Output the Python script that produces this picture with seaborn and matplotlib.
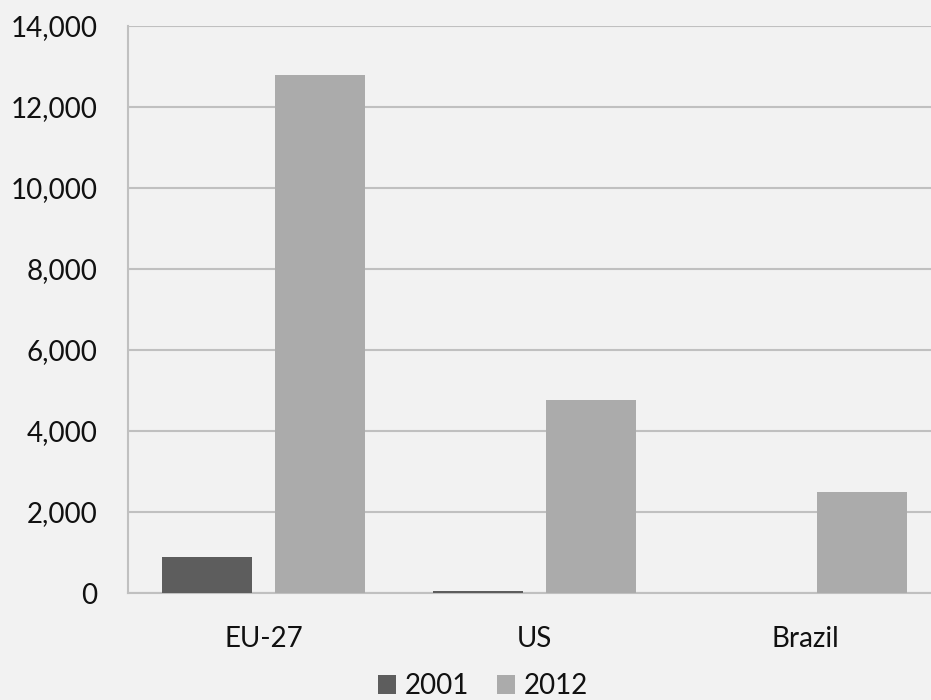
import pandas as pd
import numpy as np
import matplotlib
matplotlib.use('Agg')
import matplotlib.pyplot as plt
import seaborn as sns
from matplotlib.ticker import FuncFormatter

regions = ['EU-27', 'US', 'Brazil']
years = ['2001', '2012']
vals_2001 = [900, 50, 0]
vals_2012 = [12800, 4770, 2500]
yticks = [0, 2000, 4000, 6000, 8000, 10000, 12000, 14000]

df = pd.DataFrame({
    'region': regions * 2,
    'year': [years[0]] * 3 + [years[1]] * 3,
    'value': vals_2001 + vals_2012,
})

sns.set_style('white')
plt.rcParams['font.family'] = ['Lato', 'DejaVu Sans']

bg = '#f2f2f2'
grid_c = '#c0c0c0'
txt = '#111111'

fig = plt.figure(figsize=(9.31, 7), dpi=100, facecolor=bg)
ax = fig.add_axes([128 / 931, 107 / 700, (941 - 128) / 931, 567 / 700])
ax.set_facecolor(bg)

sns.barplot(data=df, x='region', y='value', hue='year', order=regions, hue_order=years,
            palette=['#5d5d5d', '#ababab'], saturation=1, width=0.83, gap=0.2,
            edgecolor='none', linewidth=0, ax=ax, zorder=3)

ax.set_xlim(-0.5, 2.5)
ax.set_ylim(0, 14000)
ax.set_yticks(yticks)
ax.yaxis.set_major_formatter(FuncFormatter(lambda v, p: f'{int(v):,}'))
ax.grid(axis='y', color=grid_c, linewidth=1.5, zorder=0)
ax.set_axisbelow(True)

for s in ['top', 'right']:
    ax.spines[s].set_visible(False)
for s in ['left', 'bottom']:
    ax.spines[s].set_color(grid_c)
    ax.spines[s].set_linewidth(1.5)

ax.tick_params(axis='y', length=0, pad=22, labelsize=20, labelcolor=txt)
ax.tick_params(axis='x', length=0, pad=24, labelsize=20, labelcolor=txt)
ax.set_xlabel('')
ax.set_ylabel('')

handles, labels = ax.get_legend_handles_labels()
ax.legend_.remove()
fig.legend(handles, labels, loc='center', bbox_to_anchor=(483 / 931, 14 / 700), ncol=2,
           frameon=False, fontsize=20, handlelength=0.65, handleheight=0.65,
           handletextpad=0.32, columnspacing=0.97, labelcolor=txt)

fig.savefig('out.png', dpi=100, facecolor=bg)
